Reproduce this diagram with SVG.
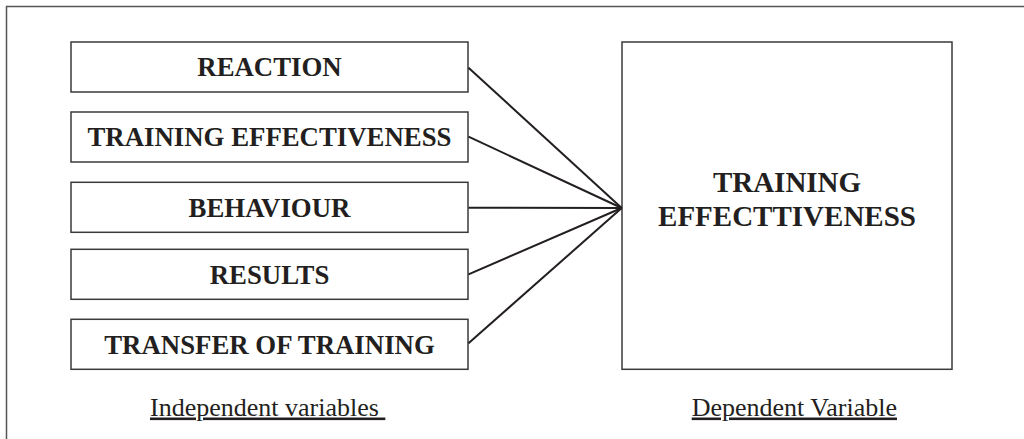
<svg xmlns="http://www.w3.org/2000/svg" width="1024" height="439" viewBox="0 0 1024 439">
<style>
.box{fill:#fff;stroke:#3a3a3a;stroke-width:1.5}
.lbl{font-family:"Liberation Serif","Times New Roman",serif;font-weight:bold;font-size:26.8px;fill:#231f20;text-anchor:middle}
.big{font-family:"Liberation Serif","Times New Roman",serif;font-weight:bold;font-size:29px;fill:#231f20;text-anchor:middle}
.cap{font-family:"Liberation Serif","Times New Roman",serif;font-size:26px;fill:#231f20;text-decoration:underline}
.conn{stroke:#231f20;stroke-width:2;fill:none}
</style>
<rect width="1024" height="439" fill="#fff"/>
<path d="M6.5,439 V6.5 H1024" fill="none" stroke="#555" stroke-width="1.5"/>
<g id="n-reaction"><rect class="box" x="71" y="42" width="397" height="50"/><text class="lbl" x="269.5" y="76.3">REACTION</text></g>
<g id="n-training-eff"><rect class="box" x="71" y="112" width="397" height="50"/><text class="lbl" x="269.5" y="146">TRAINING EFFECTIVENESS</text></g>
<g id="n-behaviour"><rect class="box" x="71" y="182.3" width="397" height="50"/><text class="lbl" x="269.5" y="216.5">BEHAVIOUR</text></g>
<g id="n-results"><rect class="box" x="71" y="249.3" width="397" height="50"/><text class="lbl" x="269.5" y="283.5">RESULTS</text></g>
<g id="n-transfer"><rect class="box" x="71" y="319.3" width="397" height="50"/><text class="lbl" x="269.5" y="353.5">TRANSFER OF TRAINING</text></g>
<g id="n-dependent"><rect class="box" x="622" y="42" width="330" height="327.3"/><text class="big" x="787" y="191.7">TRAINING</text><text class="big" x="787" y="226">EFFECTTIVENESS</text></g>
<g id="connectors">
<line class="conn" x1="468.5" y1="67.7" x2="621.7" y2="208"/>
<line class="conn" x1="468.5" y1="136.7" x2="621.7" y2="208"/>
<line class="conn" x1="468.5" y1="207.7" x2="621.7" y2="208"/>
<line class="conn" x1="468.5" y1="274.3" x2="621.7" y2="208"/>
<line class="conn" x1="468.5" y1="343.3" x2="621.7" y2="208"/>
</g>
<g id="captions">
<text class="cap" x="150" y="415.5">Independent variables&#160;</text>
<text class="cap" x="691.7" y="415.5">Dependent Variable</text>
</g>
</svg>
